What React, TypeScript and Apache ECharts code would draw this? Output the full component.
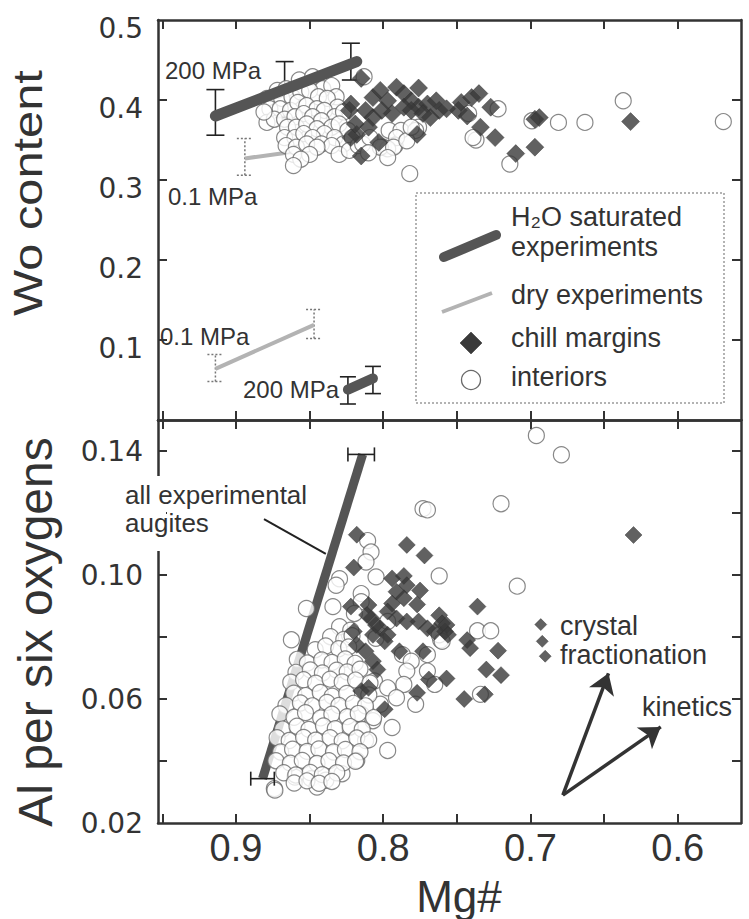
import React, { useEffect, useRef } from 'react';
import * as echarts from 'echarts';

const FONT = '"Liberation Sans", Arial, Helvetica, sans-serif';
const TICK_FONT = '"DejaVu Sans", "Liberation Sans", Arial, sans-serif';
const INK = '#333333';

// ---------- axes ----------
const X_MIN = 0.557;
const X_MAX = 0.953;
const xTickValues = [0.6, 0.65, 0.7, 0.75, 0.8, 0.85, 0.9, 0.95];
const xLabelValues = [0.6, 0.7, 0.8, 0.9];
const woTickValues = [0.1, 0.2, 0.3, 0.4];
const woLabelValues = [0.1, 0.2, 0.3, 0.4, 0.5];
const alTickValues = [0.04, 0.06, 0.08, 0.1, 0.12, 0.14];
const alLabelValues = [0.02, 0.06, 0.1, 0.14];

// ---------- top panel (Mg#, Wo) ----------
const topInteriors = [
  [0.879, 0.402], [0.872, 0.412], [0.866, 0.414], [0.857, 0.425], [0.848, 0.429], [0.841, 0.414],
  [0.835, 0.418], [0.832, 0.404], [0.869, 0.402], [0.862, 0.404], [0.856, 0.41], [0.85, 0.412],
  [0.844, 0.404], [0.838, 0.402], [0.831, 0.391], [0.877, 0.389], [0.87, 0.389], [0.863, 0.387],
  [0.858, 0.397], [0.852, 0.393], [0.845, 0.389], [0.84, 0.387], [0.833, 0.379], [0.827, 0.385],
  [0.879, 0.372], [0.874, 0.376], [0.867, 0.376], [0.86, 0.379], [0.854, 0.383], [0.848, 0.379],
  [0.842, 0.374], [0.835, 0.366], [0.83, 0.37], [0.824, 0.362], [0.881, 0.385], [0.865, 0.366],
  [0.859, 0.366], [0.852, 0.37], [0.845, 0.364], [0.84, 0.358], [0.833, 0.353], [0.827, 0.345],
  [0.821, 0.353], [0.867, 0.353], [0.86, 0.353], [0.854, 0.358], [0.848, 0.353], [0.842, 0.345],
  [0.835, 0.343], [0.83, 0.332], [0.823, 0.337], [0.817, 0.343], [0.866, 0.343], [0.859, 0.341],
  [0.852, 0.345], [0.845, 0.341], [0.85, 0.332], [0.861, 0.332], [0.856, 0.326], [0.861, 0.318],
  [0.813, 0.429], [0.814, 0.345], [0.792, 0.343], [0.796, 0.362], [0.788, 0.362], [0.782, 0.308],
  [0.776, 0.366], [0.809, 0.353], [0.8, 0.341], [0.791, 0.353], [0.637, 0.399], [0.569, 0.373],
  [0.681, 0.372], [0.663, 0.372], [0.699, 0.374], [0.714, 0.32], [0.737, 0.35], [0.722, 0.389],
  [0.742, 0.383], [0.778, 0.362], [0.797, 0.339], [0.739, 0.353], [0.802, 0.341], [0.793, 0.341],
  [0.784, 0.349], [0.781, 0.366], [0.797, 0.328], [0.81, 0.334],
];

const topChill = [
  [0.815, 0.427], [0.776, 0.415], [0.822, 0.395], [0.812, 0.387], [0.807, 0.403], [0.802, 0.412],
  [0.797, 0.399], [0.791, 0.416], [0.786, 0.408], [0.781, 0.399], [0.776, 0.391], [0.77, 0.395],
  [0.764, 0.399], [0.762, 0.387], [0.768, 0.378], [0.807, 0.378], [0.794, 0.383], [0.786, 0.391],
  [0.818, 0.357], [0.822, 0.353], [0.803, 0.347], [0.815, 0.33], [0.777, 0.357], [0.747, 0.397],
  [0.74, 0.403], [0.735, 0.408], [0.749, 0.387], [0.743, 0.38], [0.727, 0.391], [0.734, 0.366],
  [0.724, 0.353], [0.71, 0.333], [0.697, 0.341], [0.697, 0.376], [0.694, 0.378], [0.632, 0.373],
  [0.823, 0.387], [0.819, 0.37], [0.81, 0.366], [0.801, 0.387], [0.781, 0.387], [0.773, 0.383],
  [0.757, 0.389],
];

const h2oTopLine = [[0.914, 0.38], [0.818, 0.448]];
const h2oTopErr = [[0.914, 0.356, 0.413], [0.867, 0.378, 0.448], [0.822, 0.425, 0.471]];
const dryTopLine = [[0.894, 0.327], [0.862, 0.335]];
const dryTopErr = [[0.894, 0.306, 0.352]];

const dryLowLine = [[0.914, 0.064], [0.847, 0.119]];
const dryLowErr = [[0.914, 0.048, 0.082], [0.847, 0.102, 0.138]];
const h2oLowLine = [[0.824, 0.038], [0.807, 0.052]];
const h2oLowErr = [[0.824, 0.02, 0.054], [0.807, 0.033, 0.067]];

// ---------- bottom panel (Mg#, Al) ----------
const bottomInteriors = [
  [0.696, 0.145], [0.679, 0.1388], [0.72, 0.123], [0.773, 0.1214], [0.77, 0.121], [0.762, 0.0997],
  [0.709, 0.0964], [0.736, 0.082], [0.727, 0.082], [0.761, 0.079], [0.734, 0.0615],
  [0.8106, 0.1111], [0.8083, 0.1074], [0.8117, 0.1042], [0.8049, 0.0994], [0.8297, 0.0988],
  [0.832, 0.0967], [0.815, 0.094], [0.815, 0.0914], [0.8342, 0.0898], [0.8196, 0.0876],
  [0.823, 0.0807], [0.8522, 0.0892], [0.8624, 0.0791],
  [0.797, 0.085], [0.787, 0.0743], [0.781, 0.0722], [0.784, 0.069], [0.786, 0.0647], [0.778, 0.0583],
  [0.77, 0.0743], [0.77, 0.069], [0.765, 0.0647], [0.762, 0.0807], [0.76, 0.0786], [0.806, 0.0658],
  [0.797, 0.0636], [0.791, 0.0604], [0.802, 0.0583], [0.815, 0.0551], [0.807, 0.053], [0.794, 0.0508],
  [0.797, 0.0434], [0.812, 0.0466], [0.823, 0.0508], [0.818, 0.0402], [0.828, 0.0359], [0.839, 0.0338],
  [0.849, 0.0343], [0.86, 0.0348], [0.874, 0.0311], [0.845, 0.0316], [0.805, 0.0796],
  [0.8297, 0.0833], [0.8221, 0.0822],
  [0.8358, 0.0801], [0.8268, 0.0792], [0.8212, 0.0804],
  [0.8462, 0.0759], [0.8391, 0.0771], [0.8302, 0.0762], [0.8235, 0.0768],
  [0.8584, 0.0728], [0.8515, 0.0716], [0.8418, 0.0726], [0.8348, 0.0718], [0.8258, 0.0729], [0.8191, 0.0715],
  [0.8593, 0.0686], [0.8496, 0.0694], [0.8413, 0.0684], [0.8316, 0.0693], [0.8245, 0.0687], [0.8158, 0.0696],
  [0.8628, 0.0654], [0.8541, 0.0662], [0.8459, 0.0651], [0.8361, 0.0664], [0.8279, 0.0655], [0.8188, 0.0661], [0.809, 0.0652],
  [0.8608, 0.0619], [0.8527, 0.0611], [0.8428, 0.0621], [0.8347, 0.0609], [0.8248, 0.0618], [0.8098, 0.0613],
  [0.8661, 0.0579], [0.8563, 0.0587], [0.8481, 0.0578], [0.8382, 0.0589], [0.8301, 0.0579], [0.8203, 0.0586], [0.8121, 0.0578],
  [0.8702, 0.0552], [0.8606, 0.0541], [0.8528, 0.0556], [0.8425, 0.0539], [0.8349, 0.0551], [0.8245, 0.0543], [0.817, 0.0553], [0.8065, 0.054],
  [0.8684, 0.0503], [0.8586, 0.0512], [0.8505, 0.0502], [0.8406, 0.0513], [0.8326, 0.0504], [0.8224, 0.0511], [0.8143, 0.0502],
  [0.8721, 0.0475], [0.8639, 0.0466], [0.8541, 0.0476], [0.8459, 0.0467], [0.8361, 0.0475], [0.8279, 0.0465], [0.818, 0.0474], [0.8099, 0.0468],
  [0.8697, 0.0429], [0.8616, 0.0438], [0.8517, 0.0431], [0.8437, 0.0439], [0.8338, 0.0429], [0.8257, 0.0437], [0.8158, 0.043],
  [0.8729, 0.0401], [0.8631, 0.0393], [0.855, 0.0402], [0.845, 0.0392], [0.8369, 0.0401], [0.827, 0.0394], [0.8188, 0.0399],
  [0.8676, 0.0362], [0.8594, 0.0355], [0.8496, 0.0363], [0.8414, 0.0356], [0.8316, 0.0362],
  [0.8605, 0.0329], [0.8518, 0.0336], [0.8436, 0.0328], [0.8349, 0.0334],
  [0.8736, 0.0306],
];

const bottomChill = [
  [0.784, 0.1097], [0.772, 0.1063], [0.63, 0.1129], [0.736, 0.0898], [0.775, 0.095], [0.777, 0.0905],
  [0.762, 0.087], [0.76, 0.0844], [0.758, 0.0818], [0.743, 0.079], [0.741, 0.0764], [0.722, 0.0756],
  [0.73, 0.0695], [0.72, 0.0677], [0.773, 0.0754], [0.769, 0.0663], [0.757, 0.0666], [0.777, 0.062],
  [0.745, 0.06], [0.731, 0.0615],
  [0.818, 0.113], [0.82, 0.1024], [0.822, 0.0898], [0.81, 0.0903], [0.808, 0.086], [0.82, 0.0818],
  [0.818, 0.0775], [0.812, 0.0754], [0.807, 0.0722], [0.804, 0.0695], [0.815, 0.0626], [0.81, 0.0636],
  [0.799, 0.0567], [0.794, 0.0989], [0.786, 0.0997], [0.784, 0.0967], [0.791, 0.0946], [0.786, 0.0925],
  [0.794, 0.0908], [0.797, 0.0882], [0.791, 0.086], [0.784, 0.085], [0.776, 0.085], [0.77, 0.0828],
  [0.765, 0.0818], [0.757, 0.0839], [0.756, 0.0807], [0.802, 0.0828], [0.807, 0.0807], [0.797, 0.0807],
  [0.799, 0.0786], [0.789, 0.0754], [0.811, 0.0871], [0.805, 0.0839],
];
const bottomChillSmall = [[0.693, 0.084], [0.692, 0.0786], [0.69, 0.0738]];

const augiteLine = [[0.882, 0.0343], [0.814, 0.1389]];
const augiteErr = [[0.1389, 0.806, 0.824], [0.0343, 0.874, 0.89]];
const leaderLine = [[0.881, 0.118], [0.839, 0.1068]];
const arrowStart = [0.678, 0.029];
const arrowEnds = [[0.647, 0.0683], [0.6115, 0.051]];

// ---------- helpers ----------
const vErr = (color: string, width: number, cap: number, dash: number[] | null) =>
  (params: any, api: any) => {
    const x = api.value(0);
    const a = api.coord([x, api.value(1)]);
    const b = api.coord([x, api.value(2)]);
    const style: any = { stroke: color, lineWidth: width, fill: null };
    if (dash) style.lineDash = dash;
    return {
      type: 'group',
      children: [
        { type: 'line', shape: { x1: a[0], y1: a[1], x2: b[0], y2: b[1] }, style },
        { type: 'line', shape: { x1: a[0] - cap, y1: a[1], x2: a[0] + cap, y2: a[1] }, style },
        { type: 'line', shape: { x1: b[0] - cap, y1: b[1], x2: b[0] + cap, y2: b[1] }, style },
      ],
    };
  };

const hErr = (color: string, width: number, cap: number) => (params: any, api: any) => {
  const y = api.value(0);
  const a = api.coord([api.value(1), y]);
  const b = api.coord([api.value(2), y]);
  const style: any = { stroke: color, lineWidth: width, fill: null };
  return {
    type: 'group',
    children: [
      { type: 'line', shape: { x1: a[0], y1: a[1], x2: b[0], y2: b[1] }, style },
      { type: 'line', shape: { x1: a[0], y1: a[1] - cap, x2: a[0], y2: a[1] + cap }, style },
      { type: 'line', shape: { x1: b[0], y1: b[1] - cap, x2: b[0], y2: b[1] + cap }, style },
    ],
  };
};

const axisLine = { show: true, onZero: false, lineStyle: { color: INK, width: 2.5 } };
const tickStyle = { color: INK, width: 2 };

const xAxisDef = (gridIndex: number, position: string, labels: boolean) => ({
  type: 'value',
  gridIndex,
  position,
  min: X_MIN,
  max: X_MAX,
  inverse: true,
  axisLine,
  splitLine: { show: false },
  axisTick: { show: true, inside: true, length: 9, lineStyle: tickStyle, customValues: xTickValues },
  axisLabel: labels
    ? {
        show: true,
        customValues: xLabelValues,
        formatter: (v: number) => v.toFixed(1),
        fontFamily: FONT,
        fontSize: 38,
        color: INK,
        margin: 6,
      }
    : { show: false },
});

const txt = (x: number, y: number, text: string, size: number, extra: any = {}) => ({
  type: 'text',
  x,
  y,
  z: 100,
  style: {
    text,
    font: `${size}px ${FONT}`,
    fill: INK,
    textAlign: 'left',
    textVerticalAlign: 'middle',
    ...extra,
  },
});

const scatterCircle = { color: '#ffffff', borderColor: '#6a6a6a', borderWidth: 1.2 };
const scatterDiamond = { color: '#3a3a3a', borderColor: '#2a2a2a', borderWidth: 0.5 };

export default function App() {
  const ref = useRef<HTMLDivElement>(null);

  useEffect(() => {
    if (!ref.current) return;
    const chart = echarts.init(ref.current, null, { renderer: 'svg' });

    const option: any = {
      animation: false,
      backgroundColor: '#ffffff',
      textStyle: { fontFamily: FONT },
      grid: [
        { left: 158, top: 20, width: 583, height: 400, outerBoundsMode: 'none', containLabel: false },
        { left: 158, top: 420, width: 583, height: 403, outerBoundsMode: 'none', containLabel: false },
      ],
      xAxis: [
        xAxisDef(0, 'bottom', false),
        xAxisDef(0, 'top', false),
        xAxisDef(1, 'bottom', true),
        xAxisDef(1, 'top', false),
      ],
      yAxis: [
        {
          type: 'value', gridIndex: 0, position: 'left', min: 0, max: 0.5,
          axisLine, splitLine: { show: false },
          axisTick: { show: true, inside: true, length: 9, lineStyle: tickStyle, customValues: woTickValues },
          axisLabel: {
            customValues: woLabelValues, formatter: (v: number) => v.toFixed(1),
            fontFamily: TICK_FONT, fontSize: 28, color: INK, margin: 15,
            verticalAlign: 'top', lineHeight: 16,
          },
        },
        {
          type: 'value', gridIndex: 0, position: 'right', min: 0, max: 0.5,
          axisLine, splitLine: { show: false },
          axisTick: { show: true, inside: true, length: 9, lineStyle: tickStyle, customValues: woTickValues },
          axisLabel: { show: false },
        },
        {
          type: 'value', gridIndex: 1, position: 'left', min: 0.02, max: 0.15,
          axisLine, splitLine: { show: false },
          axisTick: { show: true, inside: true, length: 9, lineStyle: tickStyle, customValues: alTickValues },
          axisLabel: {
            customValues: alLabelValues, formatter: (v: number) => v.toFixed(2),
            fontFamily: TICK_FONT, fontSize: 28, color: INK, margin: 15,
          },
        },
        {
          type: 'value', gridIndex: 1, position: 'right', min: 0.02, max: 0.15,
          axisLine, splitLine: { show: false },
          axisTick: { show: true, inside: true, length: 9, lineStyle: tickStyle, customValues: alTickValues },
          axisLabel: { show: false },
        },
      ],
      series: [
        // ---- top panel ----
        {
          type: 'custom', xAxisIndex: 0, yAxisIndex: 0, z: 2, encode: { x: 0, y: [1, 2] },
          renderItem: vErr('#222', 1.6, 9, null), data: h2oTopErr,
        },
        {
          type: 'custom', xAxisIndex: 0, yAxisIndex: 0, z: 2, encode: { x: 0, y: [1, 2] },
          renderItem: vErr('#777', 1.5, 8, [2, 2]), data: dryTopErr,
        },
        {
          type: 'scatter', name: 'interiors', xAxisIndex: 0, yAxisIndex: 0, z: 3,
          symbol: 'circle', symbolSize: 16, itemStyle: scatterCircle, data: topInteriors,
        },
        {
          type: 'line', xAxisIndex: 0, yAxisIndex: 0, z: 4, showSymbol: false, symbol: 'none',
          lineStyle: { color: '#555', width: 11, cap: 'round' }, data: h2oTopLine,
        },
        {
          type: 'line', xAxisIndex: 0, yAxisIndex: 0, z: 2, showSymbol: false, symbol: 'none',
          lineStyle: { color: '#b3b3b3', width: 4 }, data: dryTopLine,
        },
        {
          type: 'scatter', name: 'chill margins', xAxisIndex: 0, yAxisIndex: 0, z: 5,
          symbol: 'diamond', symbolSize: 18, itemStyle: scatterDiamond, data: topChill,
        },
        {
          type: 'custom', xAxisIndex: 0, yAxisIndex: 0, z: 2, encode: { x: 0, y: [1, 2] },
          renderItem: vErr('#777', 1.5, 8, [2, 2]), data: dryLowErr,
        },
        {
          type: 'line', xAxisIndex: 0, yAxisIndex: 0, z: 3, showSymbol: false, symbol: 'none',
          lineStyle: { color: '#b3b3b3', width: 4 }, data: dryLowLine,
        },
        {
          type: 'custom', xAxisIndex: 0, yAxisIndex: 0, z: 2, encode: { x: 0, y: [1, 2] },
          renderItem: vErr('#222', 1.6, 8, null), data: h2oLowErr,
        },
        {
          type: 'line', xAxisIndex: 0, yAxisIndex: 0, z: 4, showSymbol: false, symbol: 'none',
          lineStyle: { color: '#555', width: 10, cap: 'round' }, data: h2oLowLine,
        },
        // ---- bottom panel ----
        {
          type: 'line', xAxisIndex: 2, yAxisIndex: 2, z: 2, showSymbol: false, symbol: 'none',
          lineStyle: { color: '#555', width: 9 }, data: augiteLine,
        },
        {
          type: 'custom', xAxisIndex: 2, yAxisIndex: 2, z: 4, encode: { x: [1, 2], y: 0 },
          renderItem: hErr('#222', 1.6, 7), data: augiteErr,
        },
        {
          type: 'scatter', xAxisIndex: 2, yAxisIndex: 2, z: 3,
          symbol: 'circle', symbolSize: 16, itemStyle: scatterCircle, data: bottomInteriors,
        },
        {
          type: 'scatter', xAxisIndex: 2, yAxisIndex: 2, z: 5,
          symbol: 'diamond', symbolSize: 17, itemStyle: scatterDiamond, data: bottomChill,
        },
        {
          type: 'scatter', xAxisIndex: 2, yAxisIndex: 2, z: 5,
          symbol: 'diamond', symbolSize: 12, itemStyle: scatterDiamond, data: bottomChillSmall,
        },
        {
          type: 'line', xAxisIndex: 2, yAxisIndex: 2, z: 4, showSymbol: false, symbol: 'none',
          lineStyle: { color: '#222', width: 2 }, data: leaderLine,
        },
        {
          type: 'lines', coordinateSystem: 'cartesian2d', xAxisIndex: 2, yAxisIndex: 2, z: 6,
          symbol: ['none', 'arrow'], symbolSize: 20,
          lineStyle: { color: INK, width: 3.5, opacity: 1 },
          data: arrowEnds.map((e) => ({ coords: [arrowStart, e] })),
        },
      ],
      graphic: {
        elements: [
          // axis titles
          {
            type: 'text', x: 28, y: 193, rotation: Math.PI / 2, scaleX: 1.19, z: 100,
            style: { text: 'Wo content', font: `41px ${FONT}`, fill: INK, textAlign: 'center', textVerticalAlign: 'middle' },
          },
          {
            type: 'text', x: 35, y: 632, rotation: Math.PI / 2, z: 100,
            style: { text: 'Al per six oxygens', font: `48px ${FONT}`, fill: INK, textAlign: 'center', textVerticalAlign: 'middle' },
          },
          {
            type: 'text', x: 459, y: 896, z: 100,
            style: { text: 'Mg#', font: `44px ${FONT}`, fill: INK, textAlign: 'center', textVerticalAlign: 'middle' },
          },
          // pressure labels
          txt(165, 70, '200 MPa', 24),
          txt(168, 196, '0.1 MPa', 24),
          txt(160, 336, '0.1 MPa', 24),
          txt(243, 389, '200 MPa', 24),
          // legend box
          {
            type: 'rect', z: 90, shape: { x: 416, y: 193, width: 308, height: 210 },
            style: { fill: '#ffffff', stroke: '#9a9a9a', lineWidth: 1.5, lineDash: [2, 2] },
          },
          {
            type: 'line', z: 100, shape: { x1: 444, y1: 257, x2: 496, y2: 235 },
            style: { stroke: '#555', lineWidth: 10, lineCap: 'round' },
          },
          {
            type: 'line', z: 100, shape: { x1: 442, y1: 312, x2: 492, y2: 293 },
            style: { stroke: '#b3b3b3', lineWidth: 4 },
          },
          {
            type: 'polygon', z: 100, shape: { points: [[471, 332], [482, 343], [471, 354], [460, 343]] },
            style: { fill: '#3a3a3a', stroke: '#2a2a2a', lineWidth: 0.5 },
          },
          {
            type: 'circle', z: 100, shape: { cx: 471, cy: 380, r: 9.5 },
            style: { fill: '#ffffff', stroke: '#6a6a6a', lineWidth: 1.3 },
          },
          txt(511, 217, 'H\u2082O saturated', 27),
          txt(511, 247, 'experiments', 27),
          txt(511, 295, 'dry experiments', 27),
          txt(511, 338, 'chill margins', 27),
          txt(511, 377, 'interiors', 27),
          // bottom annotations
          { type: 'rect', z: 90, shape: { x: 150, y: 476, width: 16, height: 75 }, style: { fill: '#ffffff' } },
          txt(125, 495, 'all experimental', 26),
          txt(125, 523, 'augites', 26),
          txt(560, 626, 'crystal', 27),
          txt(560, 655, 'fractionation', 27),
          txt(642, 707, 'kinetics', 27),
        ],
      },
    };

    chart.setOption(option);
    return () => chart.dispose();
  }, []);

  return (
    <div
      ref={ref}
      style={{ position: 'absolute', left: 0, top: 0, width: 749, height: 919, background: '#fff' }}
    />
  );
}
